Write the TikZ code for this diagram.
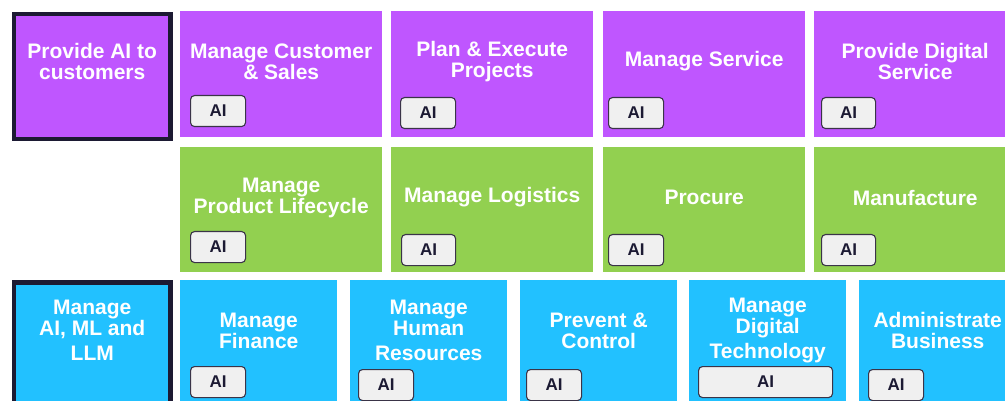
\documentclass[tikz,border=0pt]{standalone}
\usepackage{fontspec}
\setmainfont{Liberation Sans}
\usetikzlibrary{calc}
\definecolor{aipurple}{HTML}{BF56FF}
\definecolor{aigreen}{HTML}{92D050}
\definecolor{aiblue}{HTML}{22C1FF}
\definecolor{framedark}{HTML}{1C1A33}
\definecolor{badgefill}{HTML}{F0F0F0}
\definecolor{badgeedge}{HTML}{3A3448}
\tikzstyle{cell}=[rectangle,draw=none,inner sep=0pt,anchor=north west]
\tikzstyle{frame}=[rectangle,draw=framedark,line width=4.5pt,inner sep=0pt,anchor=north west]
\tikzstyle{celltext}=[text=white,align=center,inner sep=0pt,font=\fontsize{21}{21}\selectfont\bfseries]
\tikzstyle{badge}=[rectangle,rounded corners=4pt,draw=badgeedge,fill=badgefill,line width=1.1pt,minimum height=31pt,inner sep=0pt,anchor=north west,text=framedark,font=\fontsize{17}{17}\selectfont\bfseries]

\begin{document}
\begin{tikzpicture}[x=1pt,y=-1pt]

   \useasboundingbox (0,0) rectangle (1005,401);
   \clip (0,0) rectangle (1005,401);

   % framed boxes on the left
   \node[frame,fill=aipurple,minimum width=156.5pt,minimum height=125pt] (provide) at (11.75,11.75) {};
   \node[frame,fill=aiblue,minimum width=156.5pt,minimum height=140pt] (aiml) at (11.75,280.25) {};
   \node[celltext] (provide-t) at ($(provide.north)+(0,49.5)$) {Provide AI to\\customers};
   \node[celltext] (aiml-t) at ($(aiml.north)+(0,50.5)$) {Manage\\AI, ML and\\[4pt]LLM};

   % process cells
    \foreach \pos/ \name / \wid / \hgt / \col / \label in {
        (180,11)/cust/202/126/aipurple/{Manage Customer\\\& Sales},
        (391,11)/plan/202/126/aipurple/{Plan \& Execute\\Projects},
        (603,11)/serv/202/126/aipurple/{Manage Service},
        (814,11)/digi/202/126/aipurple/{Provide Digital\\Service},
        (180,147)/plm/202/125/aigreen/{Manage\\Product Lifecycle},
        (391,147)/logi/202/125/aigreen/{Manage Logistics},
        (603,147)/proc/202/125/aigreen/{Procure},
        (814,147)/manu/202/125/aigreen/{Manufacture},
        (180,280)/fin/157/130/aiblue/{Manage\\Finance},
        (350,280)/hr/157/130/aiblue/{Manage\\Human\\[4pt]Resources},
        (520,280)/prev/157/130/aiblue/{Prevent \&\\Control},
        (689,280)/tech/157/130/aiblue/{Manage\\Digital\\[4pt]Technology},
        (859,280)/admin/157/130/aiblue/{Administrate\\Business}}
    {
        \node[cell,fill=\col,minimum width=\wid pt,minimum height=\hgt pt] (\name) at \pos {};
        \node[celltext] (\name-t) at ($(\name.north)+(0,50.5)$) {\label};
    }

    % AI badges
    \foreach \pos/ \name / \wid in {
        (190,95)/cust/55, (400,97)/plan/55, (608,97)/serv/55, (821,97)/digi/54,
        (190,231)/plm/55, (401,234)/logi/54, (608,234)/proc/55, (821,234)/manu/54,
        (190,366)/fin/55, (358,369)/hr/55, (526,369)/prev/55, (698,366)/tech/134, (868,369)/admin/55}
        \node[badge,minimum width=\wid pt] (\name-ai) at \pos {AI};

\end{tikzpicture}
\end{document}
